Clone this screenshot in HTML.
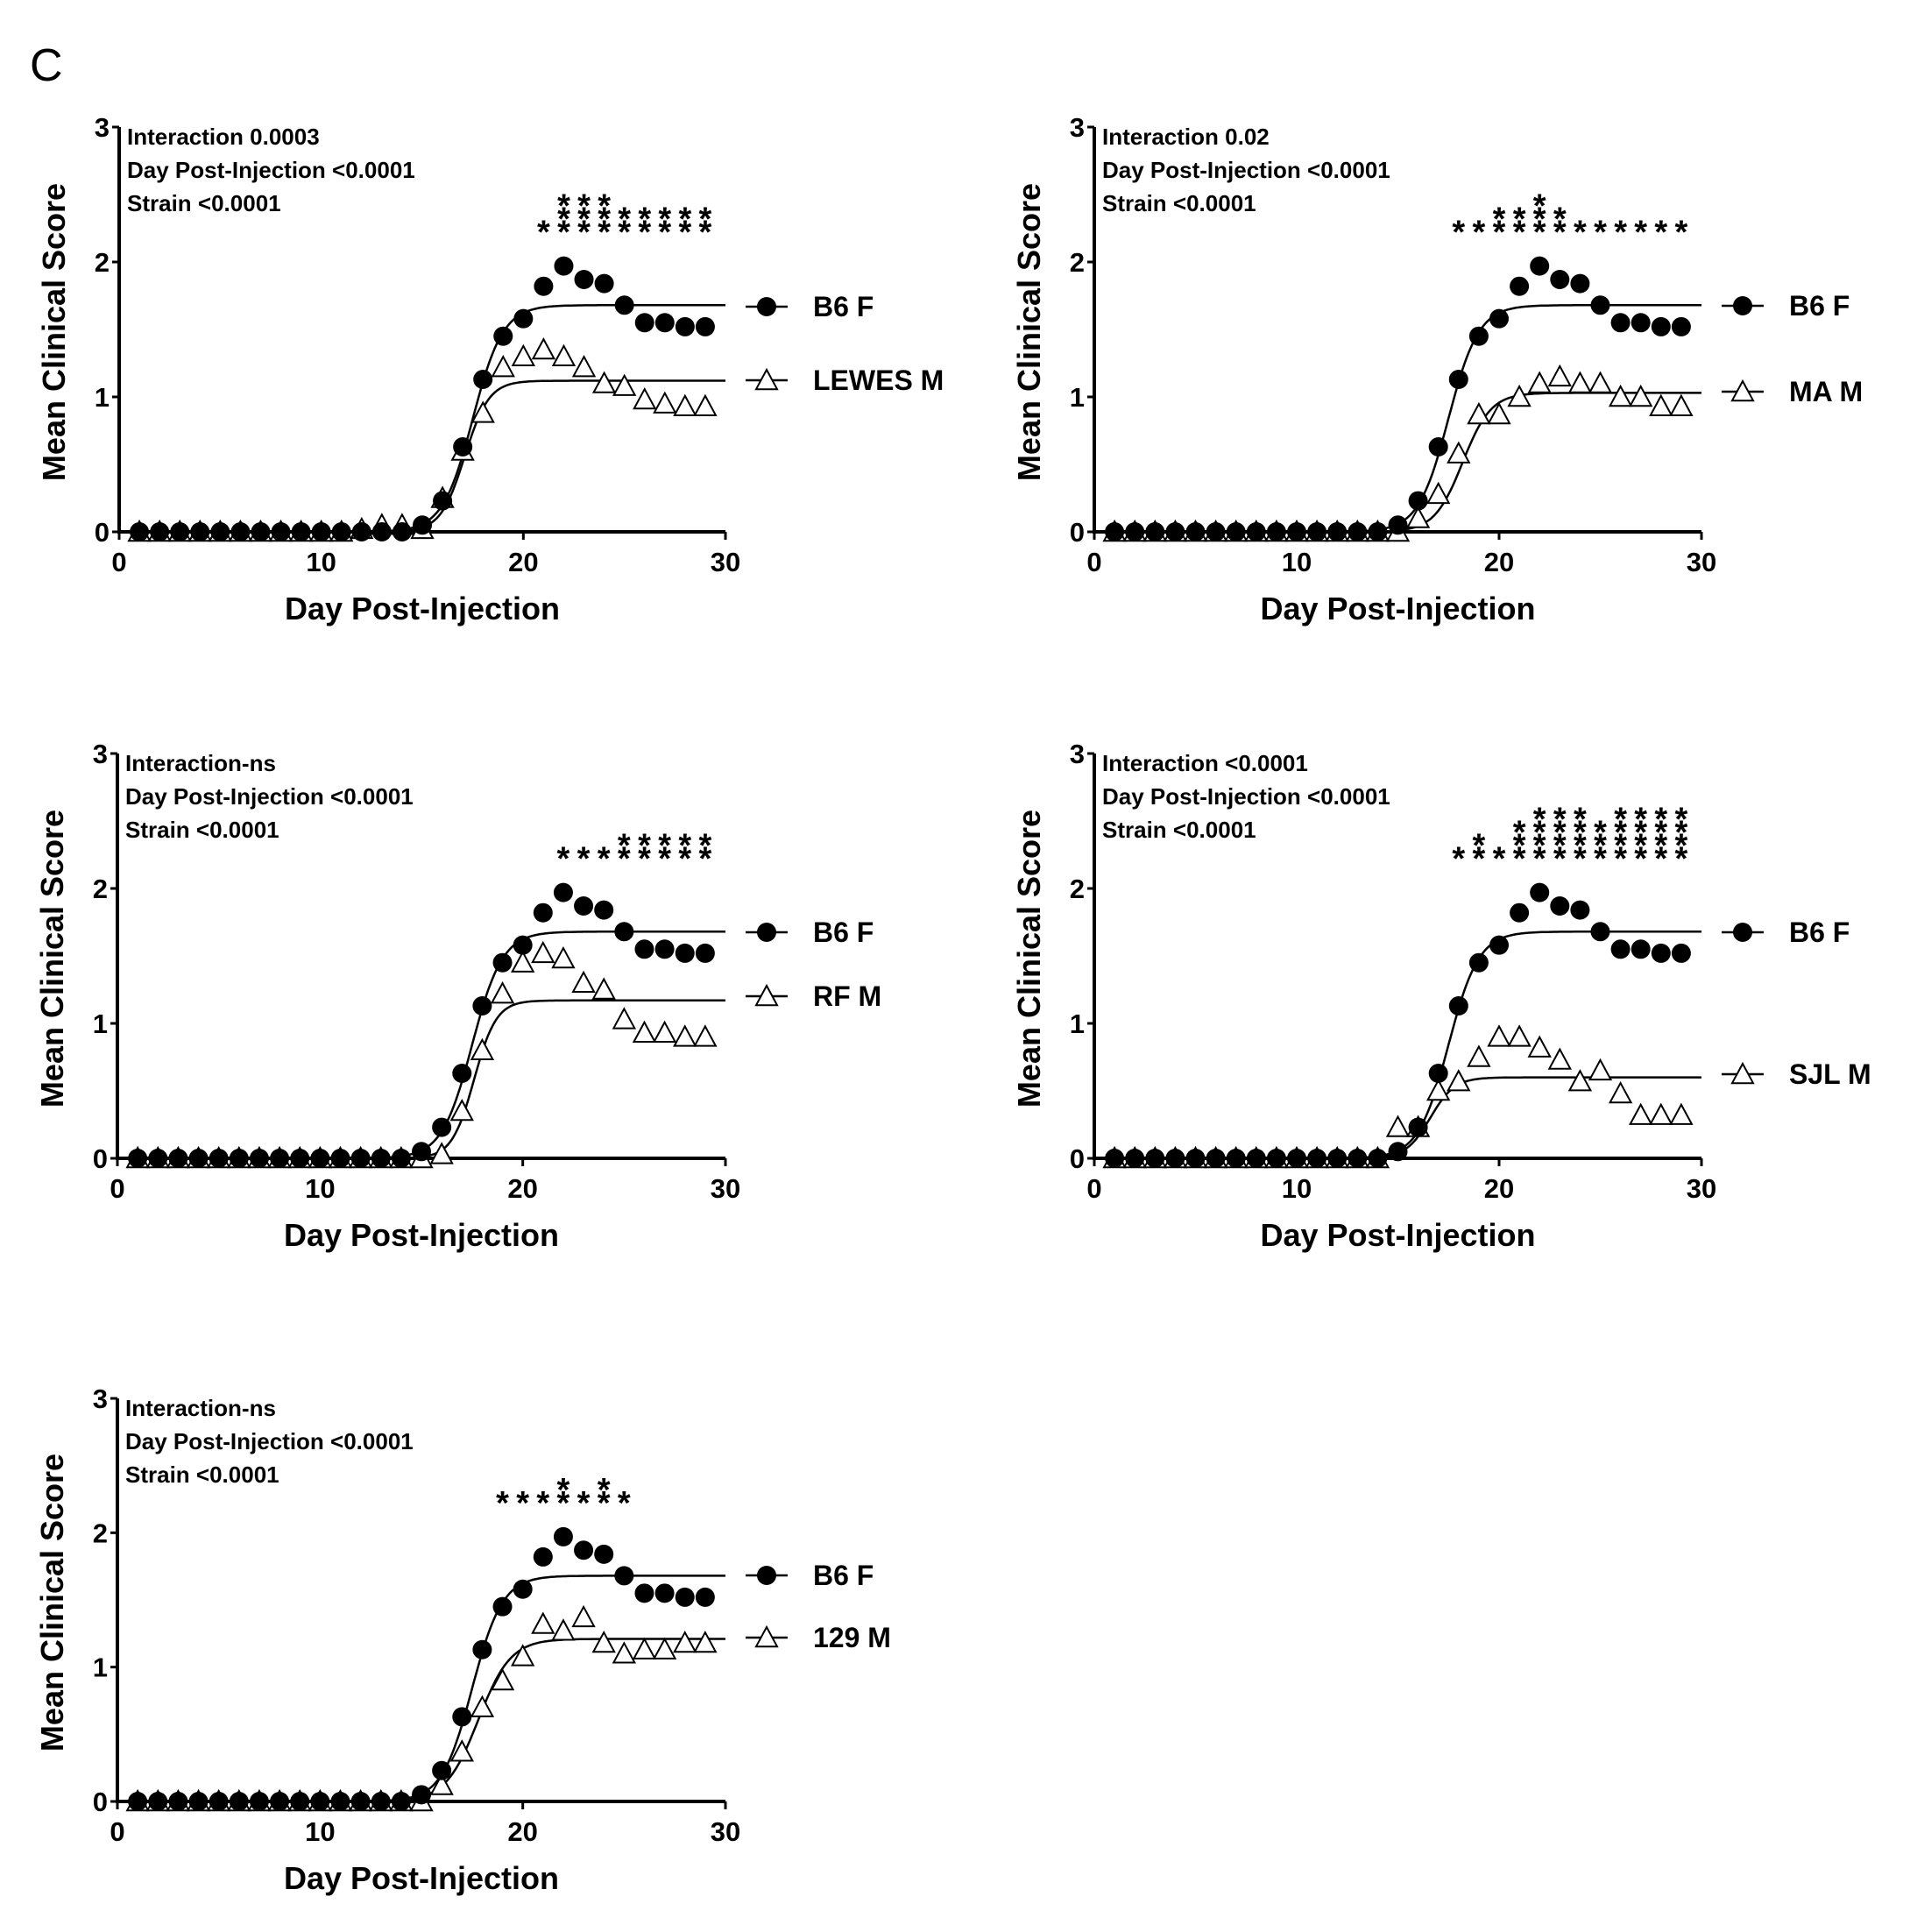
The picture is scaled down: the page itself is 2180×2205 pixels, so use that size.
<!DOCTYPE html>
<html><head><meta charset="utf-8"><style>
html,body{margin:0;padding:0;background:#fff}
svg{display:block}
text{font-family:"Liberation Sans",Arial,sans-serif;font-weight:bold;fill:#000}
.narrow{font-family:"Liberation Sans Narrow","Liberation Sans",sans-serif}
</style></head><body>
<svg id="fig" xmlns="http://www.w3.org/2000/svg" width="2180" height="2205" viewBox="0 0 2180 2205">
<text x="34" y="92" font-size="52" style="font-weight:normal">C</text>
</svg>
<script>
const days=[1,2,3,4,5,6,7,8,9,10,11,12,13,14,15,16,17,18,19,20,21,22,23,24,25,26,27,28,29];
const b6Values=[0,0,0,0,0,0,0,0,0,0,0,0,0,0,0.05,0.23,0.63,1.13,1.45,1.58,1.82,1.97,1.87,1.84,1.68,1.55,1.55,1.52,1.52];
const lewesValues=[0,0,0,0,0,0,0,0,0,0,0,0.02,0.05,0.05,0.02,0.25,0.6,0.88,1.22,1.3,1.35,1.3,1.22,1.1,1.08,0.98,0.95,0.93,0.93];
const maValues=[0,0,0,0,0,0,0,0,0,0,0,0,0,0,0,0.1,0.28,0.58,0.87,0.87,1.0,1.1,1.15,1.1,1.1,1.0,1.0,0.93,0.93];
const rfValues=[0,0,0,0,0,0,0,0,0,0,0,0,0,0,0,0.03,0.35,0.8,1.22,1.45,1.52,1.48,1.3,1.25,1.03,0.93,0.93,0.9,0.9];
const sjlValues=[0,0,0,0,0,0,0,0,0,0,0,0,0,0,0.23,0.23,0.5,0.57,0.75,0.9,0.9,0.82,0.73,0.57,0.65,0.48,0.32,0.32,0.32];
const m129Values=[0,0,0,0,0,0,0,0,0,0,0,0,0,0,0,0.12,0.37,0.7,0.9,1.08,1.32,1.27,1.37,1.18,1.1,1.13,1.13,1.18,1.18];
// fit params: [top, midpoint, slope]
const b6Fit=[1.68,17.5,0.75];
const lewesFit=[1.12,17.1,0.6];
const maFit=[1.03,18.2,0.7];
const rfFit=[1.17,17.6,0.55];
const sjlFit=[0.6,16.6,0.6];
const m129Fit=[1.21,17.8,0.8];
const xTicks=[0,10,20,30];
const yTicks=[0,1,2,3];
const starDays1=[21,22,23,24,25,26,27,28,29], starCounts1=[1,3,3,3,2,2,2,2,2];
const starDays2=[18,19,20,21,22,23,24,25,26,27,28,29], starCounts2=[1,1,2,2,3,2,1,1,1,1,1,1];
const starDays3=[22,23,24,25,26,27,28,29], starCounts3=[1,1,1,2,2,2,2,2];
const starDays4=[18,19,20,21,22,23,24,25,26,27,28,29], starCounts4=[1,2,1,3,4,4,4,3,4,4,4,4];
const starDays5=[19,20,21,22,23,24,25], starCounts5=[1,1,1,2,1,2,1];
const panels=[
 {id:'lewes',x0:136,x30:828,y0:607,y3:145,other:lewesValues,otherFit:lewesFit,label:'LEWES M',ly1:350,ly2:434,
  stats:['Interaction 0.0003','Day Post-Injection <0.0001','Strain <0.0001'],sd:starDays1,sc:starCounts1},
 {id:'ma',x0:1249,x30:1942,y0:607,y3:145,other:maValues,otherFit:maFit,label:'MA M',ly1:349,ly2:447,
  stats:['Interaction 0.02','Day Post-Injection <0.0001','Strain <0.0001'],sd:starDays2,sc:starCounts2},
 {id:'rf',x0:134,x30:828,y0:1322,y3:860,other:rfValues,otherFit:rfFit,label:'RF M',ly1:1064,ly2:1137,
  stats:['Interaction-ns','Day Post-Injection <0.0001','Strain <0.0001'],sd:starDays3,sc:starCounts3},
 {id:'sjl',x0:1249,x30:1942,y0:1322,y3:860,other:sjlValues,otherFit:sjlFit,label:'SJL M',ly1:1064,ly2:1226,
  stats:['Interaction <0.0001','Day Post-Injection <0.0001','Strain <0.0001'],sd:starDays4,sc:starCounts4},
 {id:'129',x0:134,x30:828,y0:2056,y3:1596,other:m129Values,otherFit:m129Fit,label:'129 M',ly1:1798,ly2:1869,
  stats:['Interaction-ns','Day Post-Injection <0.0001','Strain <0.0001'],sd:starDays5,sc:starCounts5}
];
const NS='http://www.w3.org/2000/svg';
const svg=document.getElementById('fig');
function mk(tag,attrs,parent){const e=document.createElementNS(NS,tag);for(const k in attrs)e.setAttribute(k,attrs[k]);(parent||svg).appendChild(e);return e;}
function logistic(f,x){return f[0]/(1+Math.exp(-(x-f[1])/f[2]));}
function circ(g,x,y){const c=mk('circle',{cx:x,cy:y,r:11,fill:'#000'},g);

return c;}
function tri(g,x,y){const s=12;const p=mk('polygon',{points:`${x},${y-s} ${x-s},${y+s*0.85} ${x+s},${y+s*0.85}`,fill:'#fff',stroke:'#000','stroke-width':2},g);

return p;}
panels.forEach(P=>{
 const g=mk('g',{});
 
 
 const sx=v=>P.x0+(P.x30-P.x0)*v/30;
 const sy=v=>P.y0-(P.y0-P.y3)*v/3;
 const ya=mk('line',{x1:P.x0,y1:P.y3,x2:P.x0,y2:P.y0,stroke:'#000','stroke-width':4},g);
 
 
 const xa=mk('line',{x1:P.x0-2,y1:P.y0,x2:P.x30,y2:P.y0,stroke:'#000','stroke-width':4},g);
 
 
 yTicks.forEach(t=>{
  mk('line',{x1:P.x0-8,y1:sy(t),x2:P.x0,y2:sy(t),stroke:'#000','stroke-width':3},g);
  const tx=mk('text',{x:P.x0-11,y:sy(t)+11,'font-size':31,'text-anchor':'end'},g);tx.textContent=t;
  
  
 });
 xTicks.forEach(t=>{
  mk('line',{x1:sx(t),y1:P.y0,x2:sx(t),y2:P.y0+9,stroke:'#000','stroke-width':3},g);
  const tx=mk('text',{x:sx(t),y:P.y0+45,'font-size':31,'text-anchor':'middle'},g);tx.textContent=t;
  
  
 });
 const yt=mk('text',{x:0,y:0,'font-size':36,'text-anchor':'middle',transform:`translate(${P.x0-62},${(P.y0+P.y3)/2+3}) rotate(-90)`},g);
 yt.textContent='Mean Clinical Score';
 
 
 const xt=mk('text',{x:(P.x0+P.x30)/2,y:P.y0+100,'font-size':36,'text-anchor':'middle','class':'narrow'},g);
 xt.textContent='Day Post-Injection';
 
 
 P.stats.forEach((s,i)=>{
  const t=mk('text',{x:P.x0+9,y:P.y3+20+i*38,'font-size':26,'class':'narrow'},g);t.textContent=s;
  
  
 });
 [P.otherFit,b6Fit].forEach((f,k)=>{
  let d='';for(let x=1;x<=30.001;x+=0.1){d+=(d?'L':'M')+sx(x).toFixed(1)+','+sy(logistic(f,x)).toFixed(1);}
  const pth=mk('path',{d:d,fill:'none',stroke:'#000','stroke-width':2.5},g);
  
  
 });
 days.forEach((d,i)=>tri(g,sx(d),sy(P.other[i])));
 days.forEach((d,i)=>circ(g,sx(d),sy(b6Values[i])));
 P.sd.forEach((d,i)=>{
  for(let k=0;k<P.sc[i];k++){
   const t=mk('text',{x:sx(d),y:sy(2.27)+20-k*15,'font-size':38,'text-anchor':'middle'},g);t.textContent='*';
   
   
  }
 });
 const lx=P.x30+47;
 const l1=mk('line',{x1:lx-24,y1:P.ly1,x2:lx+24,y2:P.ly1,stroke:'#000','stroke-width':2.5},g);
 
 
 circ(g,lx,P.ly1);
 const t1=mk('text',{x:lx+53,y:P.ly1+11,'font-size':32},g);t1.textContent='B6 F';
 
 
 const l2=mk('line',{x1:lx-24,y1:P.ly2,x2:lx+24,y2:P.ly2,stroke:'#000','stroke-width':2.5},g);
 
 
 tri(g,lx,P.ly2);
 const t2=mk('text',{x:lx+53,y:P.ly2+11,'font-size':32},g);t2.textContent=P.label;
 
 
});
</script>
</body></html>
